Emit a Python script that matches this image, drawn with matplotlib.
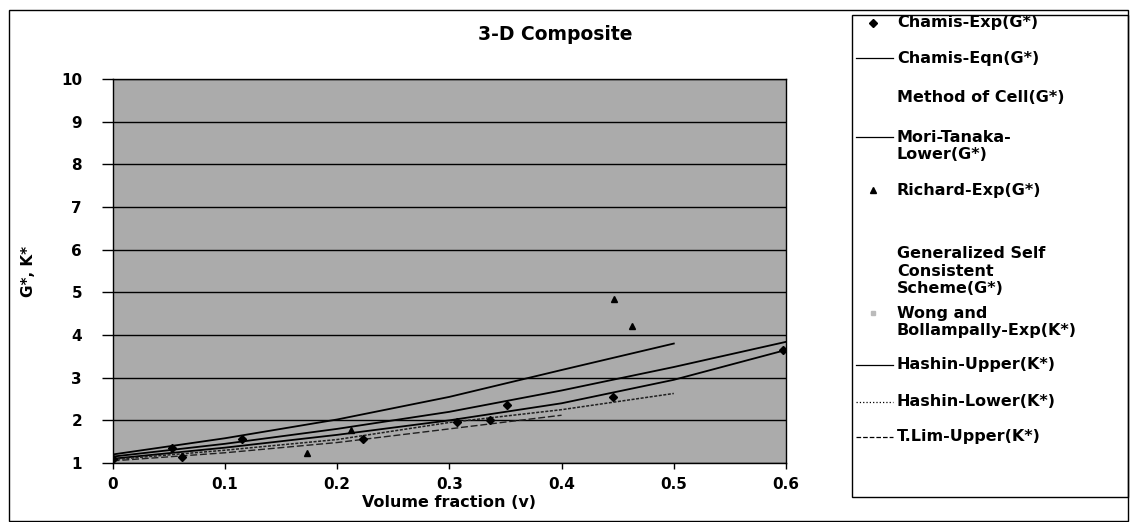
import matplotlib
matplotlib.use('Agg')
import matplotlib.pyplot as plt
from matplotlib.lines import Line2D
from matplotlib.patches import Rectangle

plt.rcParams['font.family'] = ['DejaVu Sans']

# experimental points
chamis_exp_x = [0.0, 0.053, 0.062, 0.115, 0.223, 0.307, 0.336, 0.351, 0.446, 0.597]
chamis_exp_y = [1.10, 1.36, 1.15, 1.56, 1.56, 1.97, 2.00, 2.36, 2.55, 3.65]
richard_exp_x = [0.173, 0.212, 0.447, 0.463]
richard_exp_y = [1.24, 1.77, 4.84, 4.20]

# model curves
vf_full = [0.0, 0.1, 0.2, 0.3, 0.4, 0.5, 0.6]
vf_half = [0.0, 0.1, 0.2, 0.3, 0.4, 0.5]
vf_short = [0.0, 0.1, 0.2, 0.3, 0.4]
hashin_upper = [1.20, 1.58, 2.02, 2.55, 3.18, 3.80]
chamis_eqn = [1.15, 1.45, 1.80, 2.20, 2.70, 3.25, 3.84]
mori_tanaka = [1.10, 1.36, 1.66, 2.00, 2.40, 2.95, 3.65]
hashin_lower = [1.08, 1.30, 1.55, 1.95, 2.25, 2.63]
tlim_upper = [1.05, 1.24, 1.48, 1.80, 2.12]

xticks = [0, 0.1, 0.2, 0.3, 0.4, 0.5, 0.6]
xtick_labels = ['0', '0.1', '0.2', '0.3', '0.4', '0.5', '0.6']
yticks = list(range(1, 11))

legend_labels = ["Chamis-Exp(G*)", "Chamis-Eqn(G*)", "Method of Cell(G*)",
                 "Mori-Tanaka-\nLower(G*)", "Richard-Exp(G*)",
                 "Generalized Self\nConsistent\nScheme(G*)",
                 "Wong and\nBollampally-Exp(K*)", "Hashin-Upper(K*)",
                 "Hashin-Lower(K*)", "T.Lim-Upper(K*)"]

fig = plt.figure(figsize=(11.3, 5.22), dpi=100)
ax = fig.add_axes([0.0997, 0.113, 0.5959, 0.7356])
ax.set_facecolor('#ababab')

ax.plot(vf_half, hashin_upper, color='black', lw=1.3)
ax.plot(vf_full, chamis_eqn, color='black', lw=1.3)
ax.plot(vf_full, mori_tanaka, color='black', lw=1.3)
ax.plot(vf_half, hashin_lower, color='#202020', lw=1.1, ls=(0, (2, 1)))
ax.plot(vf_short, tlim_upper, color='#202020', lw=1.0, ls=(0, (5, 2)))
ax.plot(chamis_exp_x, chamis_exp_y, ls='none', marker='D', ms=4, color='black')
ax.plot(richard_exp_x, richard_exp_y, ls='none', marker='^', ms=5, color='black')

ax.set_xlim(0, 0.6)
ax.set_ylim(1, 10)
ax.set_xticks(xticks)
ax.set_xticklabels(xtick_labels, fontsize=11, fontweight='bold')
ax.set_yticks(yticks)
ax.set_yticklabels([str(v) for v in yticks], fontsize=11, fontweight='bold')
ax.tick_params(direction='out', width=1)
ax.tick_params(axis='y', length=8, pad=14)
ax.tick_params(axis='x', length=4, pad=6)
ax.yaxis.grid(True, color='black', lw=1)
ax.set_axisbelow(True)
for s in ax.spines.values():
    s.set_linewidth(1)
ax.set_xlabel('Volume fraction (v)', fontsize=11.5, fontweight='bold', labelpad=2)
ax.set_ylabel('G*, K*', fontsize=11, fontweight='bold', labelpad=18)

fig.text(0.491, 0.933, '3-D Composite', ha='center', va='center',
         fontsize=13.5, fontweight='bold')

# chart area border
fig.patches.append(Rectangle((9 / 1130, 0.002), 1119 / 1130, 1 - 10 / 522 - 0.002,
                             transform=fig.transFigure, fill=False, lw=1, color='black'))
# legend box
fig.patches.append(Rectangle((852 / 1130, 1 - 497 / 522), 276 / 1130, 482 / 522,
                             transform=fig.transFigure, fill=False, lw=1, color='black'))

text_y = [23, 58, 98, 146, 190, 271, 322, 365, 402, 437]
handles = ['D', '-', None, '-', '^', None, 's', '-', ':', '--']
for lab, ty, h in zip(legend_labels, text_y, handles):
    fy = 1 - ty / 522
    fig.text(897 / 1130, fy, lab, ha='left', va='center', fontsize=11.5,
             fontweight='bold', linespacing=1.2)
    if h is None:
        continue
    hy = fy
    if '\n' in lab:
        hy = 1 - (ty - 9) / 522
    if h in ('D', '^', 's'):
        col = '#bbbbbb' if h == 's' else 'black'
        fig.lines.append(Line2D([873 / 1130], [hy], marker=h, ms=4 if h != 's' else 3,
                                color=col, transform=fig.transFigure))
    else:
        fig.lines.append(Line2D([856 / 1130, 893 / 1130], [hy, hy], ls=h, lw=0.9,
                                color='black', transform=fig.transFigure))

plt.savefig('out.png', dpi=100, facecolor='white')
plt.close()
